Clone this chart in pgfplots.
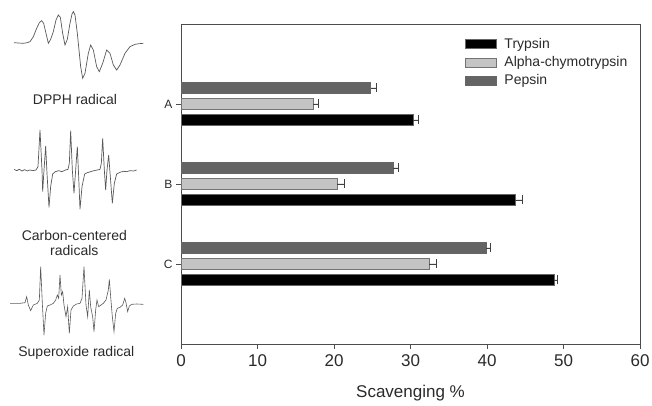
\documentclass[border=0pt]{standalone}
\usepackage{pgfplots}
\pgfplotsset{compat=1.18}
\usepackage{fontspec}
\setmainfont{Liberation Sans}
\definecolor{pep}{HTML}{646464}
\definecolor{alp}{HTML}{C4C4C4}
\definecolor{txt}{HTML}{2A2A2A}
\begin{document}
\begin{tikzpicture}[x=1pt,y=1pt]
\useasboundingbox (0,0) rectangle (652,406);
% ---- DPPH spectrum
\begin{axis}[at={(0pt,276pt)},anchor=south west,scale only axis,width=160pt,height=130pt,
  xmin=0,xmax=480,ymin=0,ymax=390,y dir=reverse,hide axis,clip=false]
\addplot[line width=0.7pt,color=black!65] coordinates {
(42,128)(55,129)(70,130)(82,128)(90,125)(100,110)(110,85)(118,68)(125,62)(131,70)(138,100)(145,130)(152,118)(160,95)(168,60)(175,45)(181,52)(188,100)(195,135)(202,118)(210,70)(216,42)(220,35)(225,45)(232,100)(242,200)(248,235)(255,220)(265,160)(272,135)(280,150)(290,200)(298,215)(308,190)(320,150)(330,160)(340,195)(350,210)(360,195)(375,160)(390,140)(405,133)(418,131)(430,130)};
\node[font=\fontsize{14}{16}\selectfont,text=txt] at (axis cs:225,300) {DPPH radical};
\end{axis}
% ---- carbon-centered spectrum
\begin{axis}[at={(0pt,136pt)},anchor=south west,scale only axis,width=160pt,height=150pt,
  xmin=0,xmax=480,ymin=0,ymax=450,y dir=reverse,hide axis,clip=false]
\addplot[line width=0.7pt,color=black!65] coordinates {
(42,148)(50,152)(58,148)(66,153)(74,149)(82,153)(90,150)(98,152)(108,150)(114,140)(120,30)(126,150)(128,215)(132,150)(137,78)(141,160)(147,262)(152,200)(158,162)(166,155)(176,152)(186,155)(196,150)(204,148)(208,130)(212,32)(217,150)(222,220)(227,150)(232,80)(236,170)(240,268)(246,200)(254,162)(262,158)(272,155)(282,152)(292,150)(300,148)(304,130)(308,55)(313,150)(317,210)(321,150)(326,105)(331,170)(337,250)(343,190)(350,162)(360,157)(370,154)(380,155)(390,152)(400,153)(410,150)};
\node[font=\fontsize{14}{16}\selectfont,text=txt] at (axis cs:223,345) {Carbon-centered};
\node[font=\fontsize{14}{16}\selectfont,text=txt] at (axis cs:223,390) {radicals};
\end{axis}
% ---- superoxide spectrum
\begin{axis}[at={(0pt,6pt)},anchor=south west,scale only axis,width=160pt,height=150pt,
  xmin=0,xmax=480,ymin=0,ymax=450,y dir=reverse,hide axis,clip=false]
\addplot[line width=0.6pt,color=black!65] coordinates {
(30,160)(60,160)(75,158)(80,140)(85,165)(92,182)(100,165)(112,160)(118,150)(122,50)(127,160)(132,255)(137,190)(142,168)(150,165)(160,160)(167,150)(172,135)(176,145)(180,75)(184,135)(188,125)(192,165)(198,200)(203,170)(208,250)(213,180)(220,168)(230,162)(240,160)(246,145)(252,50)(258,165)(263,200)(268,120)(272,170)(278,200)(282,245)(287,180)(291,150)(296,170)(303,165)(310,160)(318,150)(325,120)(328,88)(332,140)(337,200)(342,245)(347,190)(352,175)(360,172)(368,165)(374,145)(378,158)(383,185)(388,168)(395,163)(410,162)(430,163)};
\node[font=\fontsize{14}{16}\selectfont,text=txt] at (axis cs:229,310) {Superoxide radical};
\end{axis}
% ---- main bar chart
\begin{axis}[at={(181pt,62pt)},anchor=south west,scale only axis,width=459pt,height=320pt,
  xmin=0,xmax=60,ymin=0,ymax=4,
  /pgf/number format/assume math mode=true,
  xtick={0,10,20,30,40,50,60},ytick={1,2,3},yticklabels={C,B,A},
  tick align=outside,xtick pos=bottom,ytick pos=left,major tick length=5pt,
  axis line style={black!70,line width=0.8pt},
  tick style={black!70,line width=0.8pt},
  xticklabel style={font=\fontsize{17}{20}\selectfont,text=txt,yshift=-2pt},
  yticklabel style={font=\fontsize{12}{14}\selectfont,text=txt},
  xlabel={Scavenging \%},
  xlabel style={font=\fontsize{17}{20}\selectfont,text=txt,at={(axis description cs:0.5,0)},anchor=center,yshift=-49pt},
  legend cell align=left,
  legend style={draw=none,fill=none,at={(0.618,0.962)},anchor=north west,
    font=\fontsize{14}{16}\selectfont,text=txt,row sep=2.5pt,inner sep=0pt},
  legend image code/.code={\draw[#1,line width=0.6pt] (0pt,-4.5pt) rectangle (31pt,4.5pt);\path (37pt,0pt);},
  error bars/error mark=|,
  error bars/error bar style={black!75,line width=0.7pt},
  error bars/error mark options={black!75,line width=0.7pt,mark size=4.5pt},
]
\addplot[xbar,bar width=0.13,bar shift=0pt,fill=black,draw=black!60,line width=0.6pt,
  error bars/.cd,x dir=plus,x explicit] coordinates {
  (30.3,2.8) +- (0.7,0)
  (43.7,1.8) +- (0.9,0)
  (48.8,0.8) +- (0.4,0)};
\addplot[xbar,bar width=0.13,bar shift=0pt,fill=alp,draw=black!55,line width=0.6pt,
  error bars/.cd,x dir=plus,x explicit] coordinates {
  (17.3,3) +- (0.65,0)
  (20.4,2) +- (0.9,0)
  (32.4,1) +- (1.0,0)};
\addplot[xbar,bar width=0.13,bar shift=0pt,fill=pep,draw=black!60,line width=0.6pt,
  error bars/.cd,x dir=plus,x explicit] coordinates {
  (24.8,3.2) +- (0.8,0)
  (27.7,2.2) +- (0.75,0)
  (39.9,1.2) +- (0.5,0)};
\legend{Trypsin,Alpha-chymotrypsin,Pepsin}
\end{axis}
\end{tikzpicture}
\end{document}
